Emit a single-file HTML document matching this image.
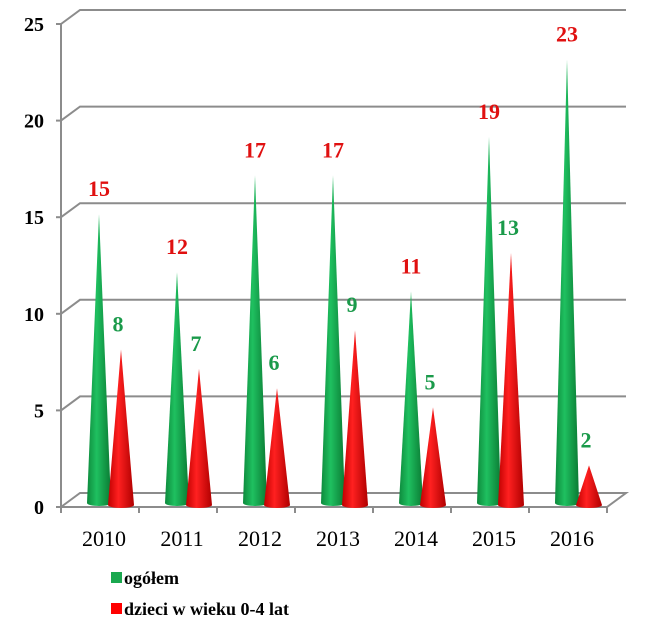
<!DOCTYPE html>
<html><head><meta charset="utf-8"><style>
body{margin:0;background:#fff}
svg text{font-family:"Liberation Serif",serif}
</style></head><body>
<svg id="c" width="667" height="629">
<defs>
<linearGradient id="gg" x1="0" x2="1"><stop offset="0" stop-color="#0d8a3c"/><stop offset="0.4" stop-color="#1fc060"/><stop offset="1" stop-color="#0a7a33"/></linearGradient>
<linearGradient id="rg" x1="0" x2="1"><stop offset="0" stop-color="#c00000"/><stop offset="0.4" stop-color="#ff2020"/><stop offset="1" stop-color="#b00000"/></linearGradient>
</defs>
<g id="grid"></g><g id="marks"></g><g id="labels"></g>
<g>
<rect x="111" y="572" width="11" height="11" fill="#1aa84f"/>
<text x="124" y="584" font-size="18" font-weight="bold">ogółem</text>
<rect x="111" y="603" width="11" height="11" fill="#ff0000"/>
<text x="124" y="615" font-size="18" font-weight="bold">dzieci w wieku 0-4 lat</text>
</g>
</svg>
<script>
const categories=["2010","2011","2012","2013","2014","2015","2016"];
const ogolem=[15,12,17,17,11,19,23];
const dzieci=[8,7,6,9,5,13,2];
const yTicks=[0,5,10,15,20,25];
const NS="http://www.w3.org/2000/svg";
const X0=61,X1=607,Y0=507,DX=19,DY=-14,YMAX=25,PH=483;
const y=v=>Y0-v/YMAX*PH;
const bw=(X1-X0)/categories.length;
const xc=i=>X0+bw*(i+0.5);
function mk(tag,attrs,parent){const e=document.createElementNS(NS,tag);for(const k in attrs)e.setAttribute(k,attrs[k]);document.getElementById(parent).appendChild(e);return e;}
let f=mk('polygon',{points:`${X0},${Y0} ${X0+DX},${Y0+DY} ${X1+DX},${Y0+DY} ${X1},${Y0}`,fill:'#fff',stroke:'#8c8c8c','stroke-width':2},'grid');


let ax=mk('line',{x1:X0,y1:y(YMAX),x2:X0,y2:Y0,stroke:'#8c8c8c','stroke-width':2},'grid');


yTicks.forEach(t=>{
 if(t>0){let g=mk('polyline',{points:`${X0},${y(t)} ${X0+DX},${y(t)+DY} ${X1+DX},${y(t)+DY}`,fill:'none',stroke:'#8c8c8c','stroke-width':2},'grid');
 
 }
 let tk=mk('line',{x1:X0-5,y1:y(t),x2:X0,y2:y(t),stroke:'#8c8c8c','stroke-width':2},'grid');
 
 
 let tx=mk('text',{x:X0-17,y:y(t)+7,'font-size':20,'font-weight':'bold','text-anchor':'end'},'labels');
 tx.textContent=t;
 
 
});
for(let i=0;i<=categories.length;i++){
 let tk=mk('line',{x1:X0+bw*i,y1:Y0,x2:X0+bw*i,y2:Y0+6,stroke:'#8c8c8c','stroke-width':2},'grid');
 
 
}
categories.forEach((c,i)=>{
 let t=mk('text',{x:xc(i)+4,y:546,'font-size':22,'text-anchor':'middle'},'labels');
 t.textContent=c;
 
 
 const gx=xc(i)-1, rx=xc(i)+21, gb=Y0-4, rb=Y0-2;
 let g=mk('path',{d:`M${gx-12},${gb} L${gx},${y(ogolem[i])-3} L${gx+12},${gb} A12,3 0 0 1 ${gx-12},${gb} Z`,fill:'url(#gg)'},'marks');
 
 
 let r=mk('path',{d:`M${rx-13},${rb} L${rx},${y(dzieci[i])-3} L${rx+13},${rb} A13,3 0 0 1 ${rx-13},${rb} Z`,fill:'url(#rg)'},'marks');
 
 
 let l1=mk('text',{x:gx,y:y(ogolem[i])-21,'font-size':22,'font-weight':'bold',fill:'#e01010','text-anchor':'middle'},'labels');
 l1.textContent=ogolem[i];
 
 
 let l2=mk('text',{x:rx-3,y:y(dzieci[i])-21,'font-size':22,'font-weight':'bold',fill:'#1a9a4a','text-anchor':'middle'},'labels');
 l2.textContent=dzieci[i];
 
 
});
</script>
</body></html>
